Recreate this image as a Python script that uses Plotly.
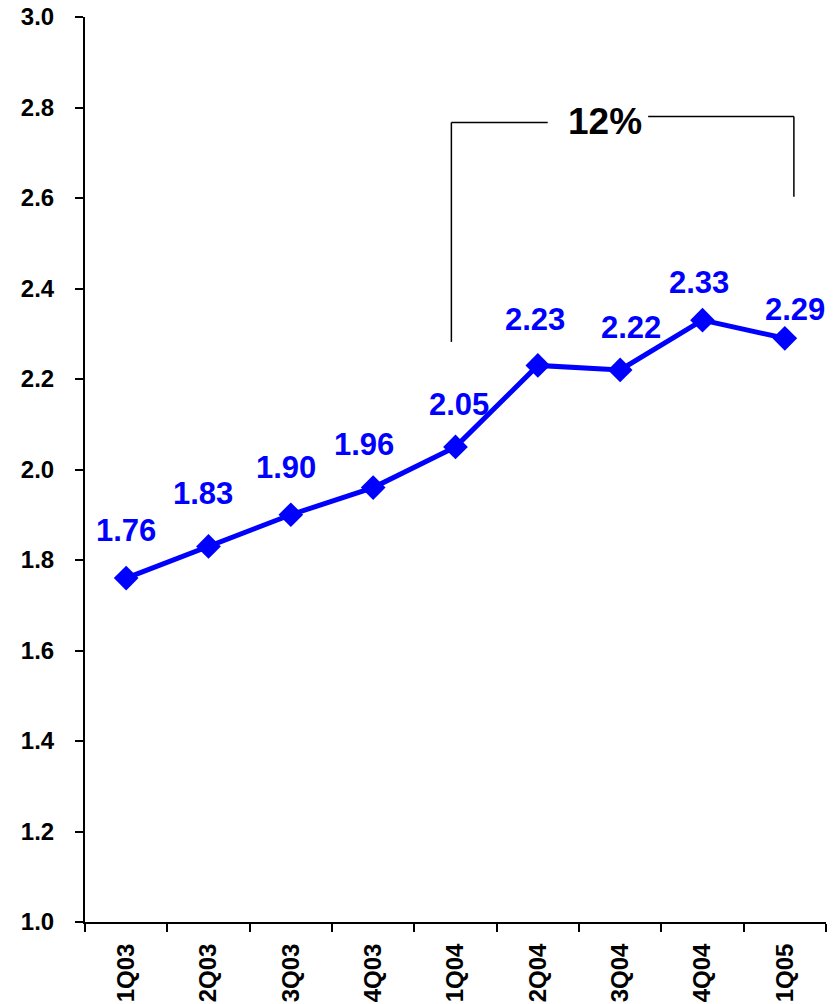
import plotly.graph_objects as go

# Quarterly series
quarters = ["1Q03", "2Q03", "3Q03", "4Q03", "1Q04", "2Q04", "3Q04", "4Q04", "1Q05"]
values = [1.76, 1.83, 1.90, 1.96, 2.05, 2.23, 2.22, 2.33, 2.29]

# Value label nudges in pixels (x right, y up)
label_dx = [0, -6, -5, -9, 3, -3, 11, -4, 10]
label_dy = [48, 53, 47, 43, 42, 46, 42, 38, 29]

# Growth bracket from 1Q04 to 1Q05
growth_text = "12%"

BLUE = "#0000FF"
FONT = "Liberation Sans, Arial, sans-serif"

fig = go.Figure()
fig.add_trace(go.Scatter(
    x=quarters, y=values, mode="lines+markers",
    line=dict(color=BLUE, width=5),
    marker=dict(symbol="diamond", size=19, color=BLUE),
    showlegend=False, hoverinfo="skip",
))

for q, v, dx, dy in zip(quarters, values, label_dx, label_dy):
    fig.add_annotation(
        x=q, y=v, xref="x", yref="y", text=f"{v:.2f}", showarrow=False,
        xshift=dx, yshift=dy,
        font=dict(family=FONT, size=31, color=BLUE, weight="bold"),
    )

# Bracket lines (category index coordinates on x)
line_style = dict(color="black", width=1.5)
fig.add_shape(type="line", xref="x", yref="y", x0=3.95, x1=3.95, y0=2.282, y1=2.767, line=line_style)
fig.add_shape(type="line", xref="x", yref="y", x0=3.95, x1=5.12, y0=2.767, y1=2.767, line=line_style)
fig.add_shape(type="line", xref="x", yref="y", x0=6.34, x1=8.11, y0=2.780, y1=2.780, line=line_style)
fig.add_shape(type="line", xref="x", yref="y", x0=8.11, x1=8.11, y0=2.603, y1=2.780, line=line_style)
fig.add_annotation(
    x=5.81, y=2.769, xref="x", yref="y", text=growth_text, showarrow=False,
    font=dict(family=FONT, size=37, color="black", weight="bold"),
)

fig.update_layout(
    width=836, height=1004, autosize=False,
    margin=dict(l=85, r=10, t=17, b=82, pad=0),
    plot_bgcolor="white", paper_bgcolor="white",
    font=dict(family=FONT, color="black"),
)
fig.update_xaxes(
    type="category", range=[-0.5, 8.5], automargin=False,
    showline=True, linecolor="black", linewidth=2,
    ticks="outside", ticklen=8, tickwidth=2, tickcolor="black",
    tickson="boundaries", tickangle=-90,
    tickfont=dict(family=FONT, size=24, color="black", weight="bold"),
    showgrid=False, zeroline=False, ticklabelstandoff=10,
)
fig.update_yaxes(
    range=[1.0, 3.0], dtick=0.2, tick0=1.0, tickformat=".1f", automargin=False,
    showline=True, linecolor="black", linewidth=2,
    ticks="outside", ticklen=8, tickwidth=2, tickcolor="black",
    tickfont=dict(family=FONT, size=24, color="black", weight="bold"),
    showgrid=False, zeroline=False, ticklabelstandoff=16,
)

fig.write_html("out.html")
